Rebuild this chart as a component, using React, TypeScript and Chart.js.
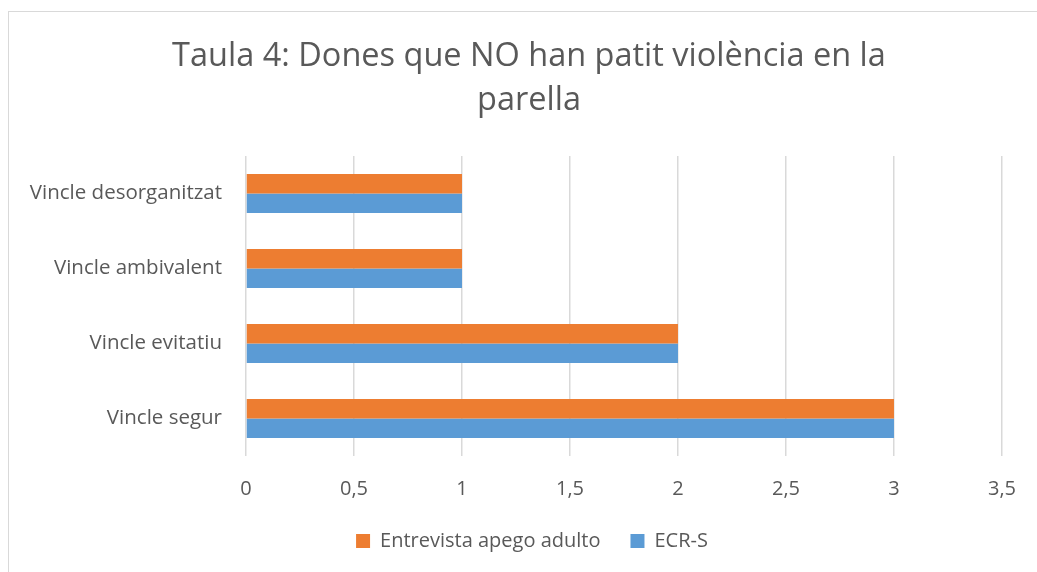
import React, { useEffect, useRef } from "react";
import { Chart, registerables } from "chart.js";

Chart.register(...registerables);

const categories = ["Vincle desorganitzat", "Vincle ambivalent", "Vincle evitatiu", "Vincle segur"];
const entrevistaValues = [1, 1, 2, 3];
const ecrsValues = [1, 1, 2, 3];
const seriesNames = ["Entrevista apego adulto", "ECR-S"];
const titleLines = ["Taula 4: Dones que NO han patit violència en la", "parella"];
const xMin = 0;
const xMax = 3.5;
const xStep = 0.5;

const FONT = "'Open Sans', 'Noto Sans', sans-serif";
const TEXT = "#595959";

const shiftPlugin = {
  id: "shiftBlocks",
  afterLayout(chart: any) {
    if (chart.titleBlock) {
      chart.titleBlock.left += 27;
      chart.titleBlock.right += 27;
    }
    if (chart.legend) {
      chart.legend.left += 30;
      chart.legend.right += 30;
    }
  },
};

export default function App() {
  const ref = useRef<HTMLCanvasElement | null>(null);

  useEffect(() => {
    document.body.style.margin = "0";
    const canvas = ref.current;
    if (!canvas) return;
    const chart = new Chart(canvas, {
      type: "bar",
      data: {
        labels: categories,
        datasets: [
          {
            label: seriesNames[0],
            data: entrevistaValues,
            backgroundColor: "#ED7D31",
            categoryPercentage: 0.52,
            barPercentage: 1,
          },
          {
            label: seriesNames[1],
            data: ecrsValues,
            backgroundColor: "#5B9BD5",
            categoryPercentage: 0.52,
            barPercentage: 1,
          },
        ],
      },
      options: {
        indexAxis: "y",
        animation: false,
        responsive: false,
        maintainAspectRatio: false,
        layout: { padding: { left: 0, right: 33, top: 0, bottom: 11 } },
        plugins: {
          title: {
            display: true,
            text: titleLines,
            color: TEXT,
            font: { family: FONT, size: 32.5, weight: "normal", lineHeight: 1.354 },
            padding: { top: 35, bottom: 33 },
          },
          legend: {
            position: "bottom",
            labels: {
              color: TEXT,
              font: { family: FONT, size: 20 },
              boxWidth: 14,
              boxHeight: 14,
              padding: 30,
            },
          },
          tooltip: { enabled: false },
        },
        scales: {
          x: {
            min: xMin,
            max: xMax,
            ticks: {
              stepSize: xStep,
              color: TEXT,
              font: { family: FONT, size: 20 },
              padding: 21,
              callback: (v: any) => String(v).replace(".", ","),
            },
            grid: { color: "#d9d9d9", lineWidth: 1.5, drawTicks: false },
            border: { display: false },
            afterFit: (scale: any) => {
              scale.height = 45;
            },
          },
          y: {
            ticks: {
              color: TEXT,
              font: { family: FONT, size: 20.5 },
              padding: 24,
            },
            grid: { display: false, drawTicks: false },
            border: { display: false },
            afterFit: (scale: any) => {
              scale.width = 246;
            },
          },
        },
      },
      plugins: [shiftPlugin],
    });
    return () => chart.destroy();
  }, []);

  return (
    <div style={{ position: "relative", width: 1037, height: 572, overflow: "hidden", background: "#fff" }}>
      <div
        style={{
          position: "absolute",
          left: 8,
          top: 11,
          width: 1100,
          height: 700,
          borderTop: "1.5px solid #d9d9d9",
          borderLeft: "1.5px solid #d9d9d9",
        }}
      />
      <canvas ref={ref} width={1037} height={572} style={{ position: "absolute", left: 0, top: 0, width: 1037, height: 572 }} />
    </div>
  );
}
